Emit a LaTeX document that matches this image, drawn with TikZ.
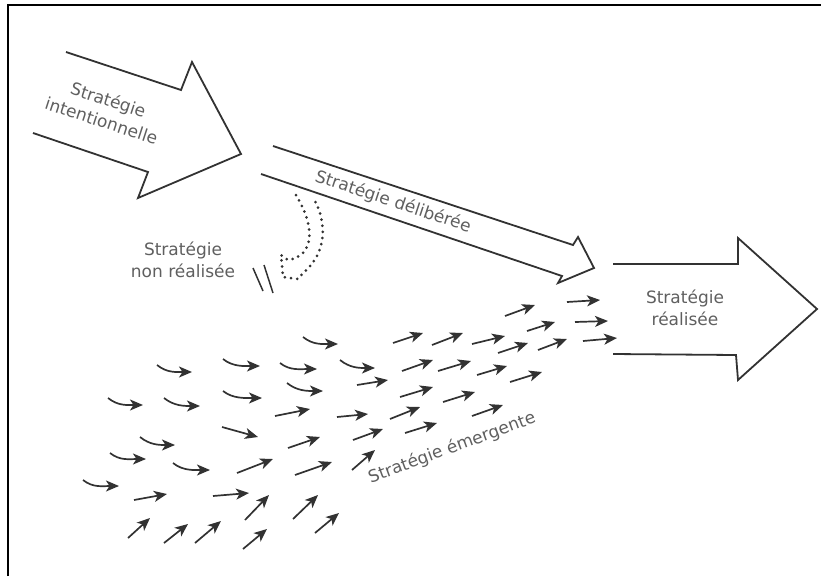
\documentclass[tikz,border=0pt]{standalone}
\usepackage{fontspec}
\setmainfont{DejaVu Sans}
\usetikzlibrary{arrows.meta}
\definecolor{inkgray}{RGB}{50,50,50}
\definecolor{txtgray}{RGB}{95,95,95}

\begin{document}
\begin{tikzpicture}[x=1pt, y=-1pt,
    bigarrow/.style={draw=inkgray, line width=1.8pt, line join=miter},
    smallarrow/.style={draw=inkgray, line width=1.7pt, -{Stealth[length=13pt, width=11pt, inset=3.5pt]}},
    lbl/.style={text=txtgray, font=\fontsize{17}{22}\selectfont, align=center}]
    \useasboundingbox (0,0) rectangle (821,576);

    % Frame
    \draw[line width=2pt] (8,576) -- (8,5) -- (821,5);

    % Intended strategy
    \draw[bigarrow] (66,52) -- (181,90) -- (192,62) -- (241,154) -- (138,198) -- (148,172) -- (33,133);
    \node[lbl, rotate=-18] (intent) at (105,110) {Stratégie\\intentionnelle};

    % Deliberate strategy
    \draw[bigarrow] (273,146) -- (573,245) -- (578,237) -- (594,268) -- (558,283) -- (562,276) -- (261,174);
    \node[lbl, rotate=-18.3] (delib) at (393,202) {Stratégie délibérée};

    % Unrealized strategy
    \draw[inkgray, line width=3pt, line cap=round, dash pattern=on 0pt off 6.2pt]
        (296,195) .. controls (316,228) and (314,256) .. (288,260) -- (281,255) -- (283,277)
        -- (298,279) -- (303,273) .. controls (328,252) and (326,222) .. (315,201);
    \draw[inkgray, line width=1.5pt] (253,268) -- (263,291);
    \draw[inkgray, line width=1.5pt] (264,265) -- (273,293);
    \node[lbl] (nonreal) at (183,260) {Stratégie\\non réalisée};

    % Realized strategy
    \draw[bigarrow] (613,264) -- (738,264) -- (738,238) -- (817,309) -- (738,380) -- (736,355) -- (613,354);
    \node[lbl] (realis) at (685,308) {Stratégie\\réalisée};

    % Emergent strategy
    \foreach \sx/\sy/\ex/\ey in {303/337/338/344, 157/365/192/372, 223/359/260/366, 280/363/317/369,
        340/360/375/368, 287/383/323/391, 108/398/143/405, 164/398/200/406, 223/391/262/398,
        140/437/175/445, 110/453/146/459, 173/463/210/470, 83/480/119/486}
        \draw[smallarrow] (\sx,\sy) .. controls +(10,8) and +(-16,0) .. (\ex,\ey);
    \foreach \sx/\sy/\ex/\ey in {222/427/258/437, 275/416/310/409, 337/417/368/414, 288/448/320/437,
        237/473/273/459, 295/475/332/462, 352/470/375/450, 134/500/167/494, 213/496/249/493,
        245/520/269/495, 293/519/318/495, 128/538/150/518, 164/543/188/524, 195/543/221/521,
        243/549/267/529, 315/533/339/513,
        505/316/535/305, 567/302/600/300, 527/331/555/322, 575/322/608/321, 583/341/617/338,
        393/343/423/333, 432/345/463/333, 472/344/505/336, 498/353/528/343, 538/350/567/339,
        402/371/433/360, 438/371/471/361, 477/375/507/366, 510/382/542/372, 357/385/388/380,
        400/397/433/387, 443/402/475/392, 390/419/420/407, 472/416/503/405, 353/440/383/429,
        405/433/437/423}
        \draw[smallarrow] (\sx,\sy) -- (\ex,\ey);
    \node[lbl, rotate=20.3] (emerg) at (452,448) {Stratégie émergente};
\end{tikzpicture}
\end{document}
